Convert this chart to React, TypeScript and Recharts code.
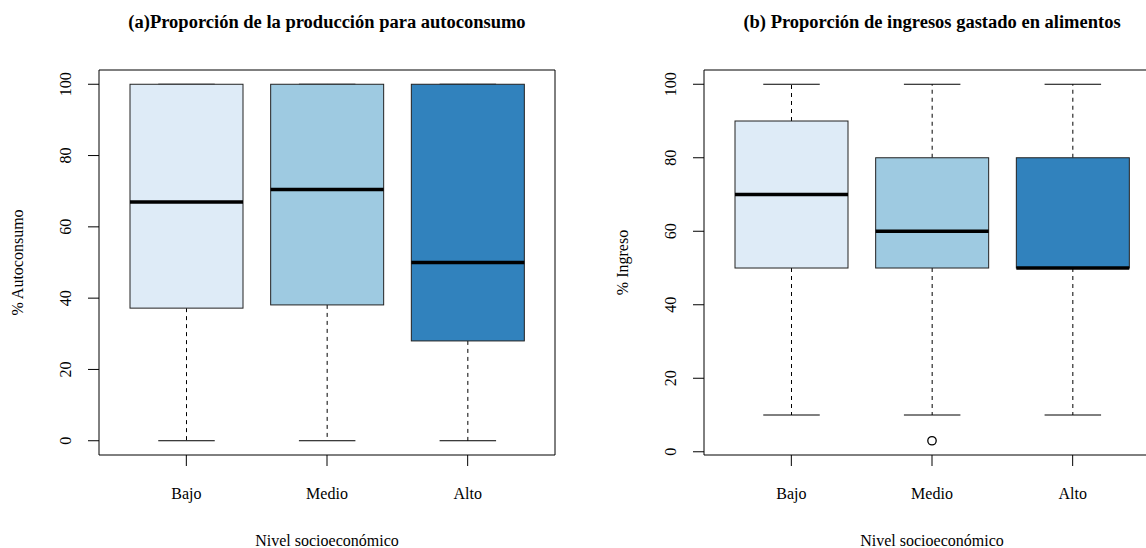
import React from 'react';
import { ComposedChart, Bar, Scatter, XAxis, YAxis, Label } from 'recharts';

// Socio-economic levels and box colours
const categories = ['Bajo', 'Medio', 'Alto'];
const boxFills = ['#DEEBF7', '#9ECAE1', '#3182BD'];
const yTicks = [0, 20, 40, 60, 80, 100];

// (a) share of production kept for own consumption (%)
const autoLow = [0, 0, 0];
const autoQ1 = [37.2, 38.1, 28];
const autoMedian = [67, 70.5, 50];
const autoQ3 = [100, 100, 100];
const autoHigh = [100, 100, 100];
const autoOutliers: number[][] = [[], [], []];

// (b) share of income spent on food (%)
const ingLow = [10, 10, 10];
const ingQ1 = [50, 50, 50];
const ingMedian = [70, 60, 50];
const ingQ3 = [90, 80, 80];
const ingHigh = [100, 100, 100];
const ingOutliers: number[][] = [[], [3], []];

const SERIF = "'Liberation Serif', 'Times New Roman', Times, serif";

type Row = {
  name: string;
  low: number;
  q1: number;
  median: number;
  q3: number;
  high: number;
  range: [number, number];
  outlier: number | null;
  fill: string;
};

function buildRows(
  low: number[],
  q1: number[],
  median: number[],
  q3: number[],
  high: number[],
  outliers: number[][]
): Row[] {
  return categories.map((name, i) => ({
    name,
    low: low[i],
    q1: q1[i],
    median: median[i],
    q3: q3[i],
    high: high[i],
    range: [low[i], high[i]],
    outlier: outliers[i].length ? outliers[i][0] : null,
    fill: boxFills[i],
  }));
}

const autoRows = buildRows(autoLow, autoQ1, autoMedian, autoQ3, autoHigh, autoOutliers);
const ingRows = buildRows(ingLow, ingQ1, ingMedian, ingQ3, ingHigh, ingOutliers);

// Box-and-whisker glyph drawn on top of a ranged bar spanning [low, high]
function BoxShape(props: any) {
  const { x, y, width, height } = props;
  const d: Row = props.payload ?? props;
  const top = Math.min(y, y + height);
  const bottom = Math.max(y, y + height);
  const span = d.high - d.low;
  const toY = (v: number) => bottom - ((v - d.low) / span) * (bottom - top);
  const cx = x + width / 2;
  const capHalf = width / 4;
  const yLow = toY(d.low);
  const yHigh = toY(d.high);
  const yQ1 = toY(d.q1);
  const yQ3 = toY(d.q3);
  const yMed = toY(d.median);
  return (
    <g>
      <line x1={cx} x2={cx} y1={yQ3} y2={yHigh} stroke="#000" strokeWidth={1} strokeDasharray="4 4" />
      <line x1={cx} x2={cx} y1={yQ1} y2={yLow} stroke="#000" strokeWidth={1} strokeDasharray="4 4" />
      <line x1={cx - capHalf} x2={cx + capHalf} y1={yHigh} y2={yHigh} stroke="#000" strokeWidth={1} />
      <line x1={cx - capHalf} x2={cx + capHalf} y1={yLow} y2={yLow} stroke="#000" strokeWidth={1} />
      <rect x={x} y={yQ3} width={width} height={yQ1 - yQ3} fill={d.fill} stroke="#222" strokeWidth={1} />
      <line x1={x} x2={x + width} y1={yMed} y2={yMed} stroke="#000" strokeWidth={3.5} />
    </g>
  );
}

function OutlierShape(props: any) {
  const { cx, cy } = props;
  const d: Row = props.payload ?? props;
  if (d.outlier == null || cx == null || cy == null || isNaN(cy)) return <g />;
  return <circle cx={cx} cy={cy} r={4.2} fill="none" stroke="#000" strokeWidth={1.3} />;
}

const NoMark = () => <g />;

function YTick(props: any) {
  const { x, y, payload } = props;
  return (
    <text
      x={x}
      y={y}
      transform={`rotate(-90 ${x} ${y})`}
      textAnchor="middle"
      fontSize={16}
      fontFamily={SERIF}
      fill="#000"
    >
      {payload.value}
    </text>
  );
}

function XTick(props: any) {
  const { x, y, payload } = props;
  return (
    <text x={x} y={y + 33} textAnchor="middle" fontSize={16} fontFamily={SERIF} fill="#000">
      {payload.value}
    </text>
  );
}

const yTitle = (text: string) => (props: any) => {
  const vb = props.viewBox;
  const x = vb.x + vb.width - 76;
  const y = vb.y + vb.height / 2;
  return (
    <text
      x={x}
      y={y}
      transform={`rotate(-90 ${x} ${y})`}
      textAnchor="middle"
      fontSize={16}
      fontFamily={SERIF}
      fill="#000"
    >
      {text}
    </text>
  );
};

const xTitle = (text: string) => (props: any) => {
  const vb = props.viewBox;
  return (
    <text x={vb.x + vb.width / 2} y={vb.y + 91} textAnchor="middle" fontSize={16} fontFamily={SERIF} fill="#000">
      {text}
    </text>
  );
};

type PanelProps = {
  rows: Row[];
  width: number;
  axisWidth: number;
  domain: [number, number];
  title: string;
  yLabel: string;
};

const PLOT_RIGHT_GAP = 18;

function BoxPanel({ rows, width, axisWidth, domain, title, yLabel }: PanelProps) {
  return (
    <div style={{ position: 'relative', width, height: 548 }}>
      <div
        style={{
          position: 'absolute',
          left: axisWidth,
          top: 12,
          width: width - axisWidth - PLOT_RIGHT_GAP,
          textAlign: 'center',
          fontFamily: SERIF,
          fontWeight: 'bold',
          fontSize: 18.5,
          lineHeight: '20px',
          whiteSpace: 'nowrap',
          color: '#000',
        }}
      >
        {title}
      </div>
      <ComposedChart
        width={width}
        height={548}
        data={rows}
        margin={{ top: 69, right: PLOT_RIGHT_GAP - 1, bottom: 0, left: 0 }}
      >
        <XAxis
          dataKey="name"
          type="category"
          padding={{ left: 17, right: 17 }}
          height={93}
          tickSize={11}
          tickMargin={0}
          tick={<XTick />}
          stroke="#000"
          axisLine={{ stroke: '#000' }}
          tickLine={{ stroke: '#000' }}
        >
          <Label content={xTitle('Nivel socioeconómico')} />
        </XAxis>
        <XAxis
          xAxisId="frameTop"
          dataKey="name"
          type="category"
          orientation="top"
          height={1}
          tick={false}
          tickLine={false}
          axisLine={{ stroke: '#000' }}
        />
        <YAxis
          type="number"
          domain={domain}
          allowDataOverflow
          ticks={yTicks}
          width={axisWidth}
          tickSize={11}
          tickMargin={17}
          tick={<YTick />}
          axisLine={{ stroke: '#000' }}
          tickLine={{ stroke: '#000' }}
        >
          <Label content={yTitle(yLabel)} />
        </YAxis>
        <YAxis
          yAxisId="frameRight"
          type="number"
          domain={domain}
          allowDataOverflow
          orientation="right"
          width={1}
          tick={false}
          tickLine={false}
          axisLine={{ stroke: '#000' }}
        />
        <Bar dataKey="range" barSize={113} shape={<BoxShape />} isAnimationActive={false} />
        <Scatter dataKey="outlier" shape={<OutlierShape />} isAnimationActive={false} />
        <Scatter
          xAxisId="frameTop"
          yAxisId="frameRight"
          dataKey="outlier"
          shape={<NoMark />}
          legendType="none"
          isAnimationActive={false}
        />
      </ComposedChart>
    </div>
  );
}

export default function App() {
  return (
    <div
      style={{
        position: 'absolute',
        left: 0,
        top: 0,
        width: 1146,
        height: 548,
        overflow: 'hidden',
        background: '#fff',
      }}
    >
      <div style={{ position: 'absolute', left: 0, top: 0 }}>
        <BoxPanel
          rows={autoRows}
          width={573}
          axisWidth={99}
          domain={[-4, 104]}
          title="(a)Proporción de la producción para autoconsumo"
          yLabel="% Autoconsumo"
        />
      </div>
      <div style={{ position: 'absolute', left: 573, top: 0 }}>
        <BoxPanel
          rows={ingRows}
          width={605}
          axisWidth={131}
          domain={[-0.88, 103.88]}
          title="(b) Proporción de ingresos gastado en alimentos"
          yLabel="% Ingreso"
        />
      </div>
    </div>
  );
}
